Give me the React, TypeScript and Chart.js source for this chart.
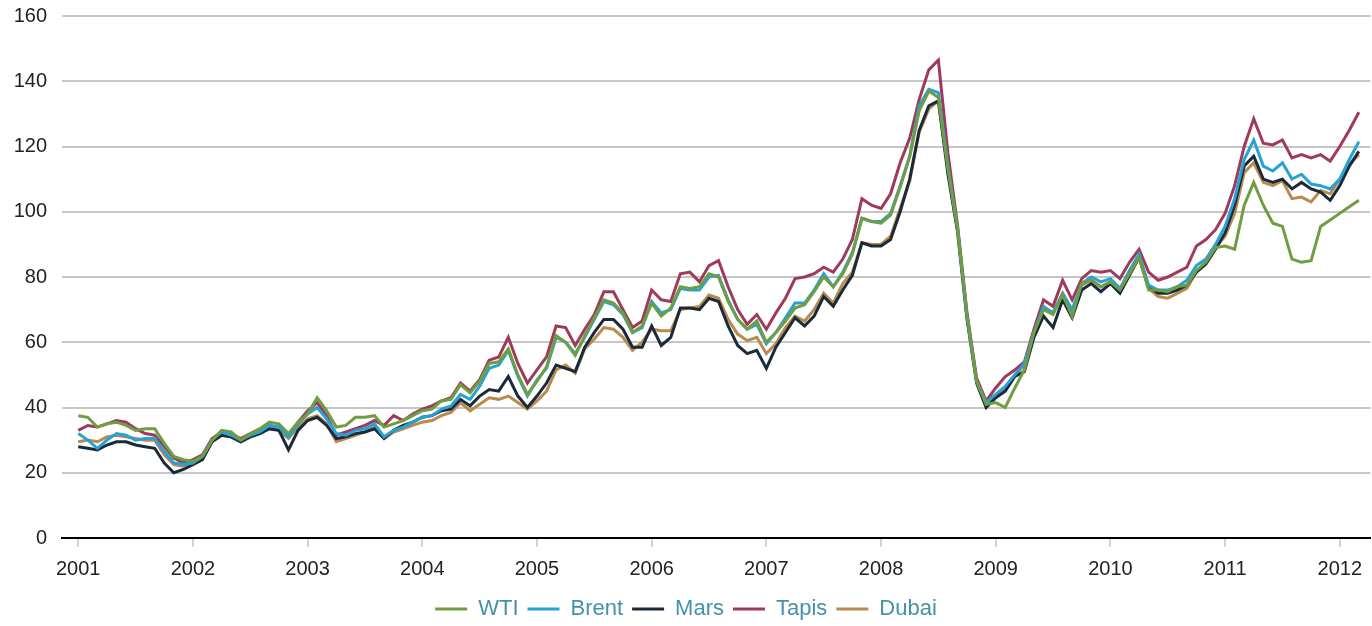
import React, { useEffect, useRef } from "react";
import { Chart, registerables } from "chart.js";

Chart.register(...registerables);

// Monthly data, Jan 2001 .. Mar 2012 (index 0 = Jan 2001)
const yearLabels = ["2001", "2002", "2003", "2004", "2005", "2006", "2007", "2008", "2009", "2010", "2011", "2012"];
const seriesNames = ["WTI", "Brent", "Mars", "Tapis", "Dubai"];
const seriesColors = ["#6f9d42", "#27a2d6", "#1b2a3b", "#9e3a5a", "#b88a4e"];

const wti = [
  37.5, 37, 34, 35, 35.5, 34.5, 33, 33.5, 33.5, 29, 25, 24,
  23.5, 25, 30, 33, 32.5, 30, 32, 33.5, 35.5, 35, 32, 35.5,
  38, 43, 39, 34, 34.5, 37, 37, 37.5, 34, 35, 36, 37.5,
  39, 39.5, 42, 42.5, 47, 44.5, 48, 53.5, 54, 58, 50, 44,
  48, 52.5, 62, 60, 56, 62, 67.5, 73, 72, 69, 63, 65,
  72, 68, 70.5, 77, 76.5, 77, 81, 80, 72.5, 67, 64, 66.5,
  60, 63, 66.5, 70.5, 71.5, 75.5, 80, 77, 81, 87, 98, 97,
  96.5, 99, 107.5, 117, 131, 137, 135, 113, 95, 68, 48, 41,
  41.5, 40, 46, 51.5, 63, 70, 68.5, 74.5, 68, 78, 79, 77,
  78.5, 76, 81, 86, 76, 76, 75.5, 77, 77.5, 82, 84.5, 89,
  89.5, 88.5, 102, 109, 102, 96.5, 95.5, 85.5, 84.5, 85, 95.5, 97.5,
  99.5, 101.5, 103.5,
];
const brent = [
  32, 30, 27.5, 30, 32, 31.5, 30, 30.5, 30.5, 26.5, 23, 22.5,
  23, 25, 30, 32.5, 31.5, 30, 31.5, 32.5, 34.5, 34, 31, 35,
  38, 40, 36.5, 32, 31.5, 33, 33.5, 35, 31, 33, 34, 35.5,
  37, 37.5, 39.5, 40.5, 44, 42.5, 46.5, 52, 53, 57.5, 49.5, 43.5,
  48.5, 52, 61.5, 60, 56.5, 61.5, 67, 72.5, 71.5, 68.5, 63, 64.5,
  72.5, 69, 70, 76.5, 76, 76, 80, 80.5, 73, 67, 64, 65.5,
  59.5, 63, 67.5, 72, 72, 76, 81, 77, 81.5, 87.5, 98, 97,
  97, 99.5, 108, 117, 132.5, 137.5, 136.5, 114, 95, 68, 48, 41.5,
  44, 46.5, 50, 53.5, 63, 71, 69, 75, 70, 78, 80, 78.5,
  79.5, 76.5, 82, 87, 77.5, 76, 76, 77, 79, 83.5, 85.5, 90,
  95.5, 104, 116, 122, 114, 112.5, 115, 110, 111.5, 108.5, 108, 107,
  110, 116, 121.5,
];
const mars = [
  28, 27.5, 27, 28.5, 29.5, 29.5, 28.5, 28, 27.5, 23, 20, 21,
  22.5, 24, 29.5, 31.5, 31, 29.5, 31, 32, 33.5, 33, 27, 33,
  36, 37, 34.5, 30.5, 31, 32, 32.5, 33.5, 30.5, 33, 34.5, 35.5,
  37, 37.5, 39, 39.5, 42.5, 40.5, 43.5, 45.5, 45, 49.5, 43.5, 40,
  43.5, 47.5, 53, 52, 51, 58.5, 63, 67, 67, 64, 58.5, 58.5,
  65, 59, 61.5, 70.5, 70.5, 70, 73.5, 72.5, 65, 59, 56.5, 57.5,
  52, 58.5, 63, 67.5, 65, 68, 74, 71, 76, 80.5, 90.5, 89.5,
  89.5, 91.5, 100, 110, 125, 132.5, 134, 111.5, 94, 67, 47.5, 40,
  43, 45, 49.5, 51, 61.5, 68, 64.5, 73, 67.5, 76, 78, 75.5,
  78, 75, 80.5, 86, 77, 75, 75, 76, 77.5, 81.5, 84, 88.5,
  93.5, 102, 114, 117, 110, 109, 110, 107, 109, 107, 106, 103.5,
  108, 114, 118.5,
];
const tapis = [
  33, 34.5, 34, 35, 36, 35.5, 33.5, 32, 31.5, 28, 24.5, 23,
  24, 25.5, 30.5, 32.5, 32, 30.5, 32, 33, 34.5, 34, 31.5, 35.5,
  39, 41.5, 37.5, 31.5, 32.5, 33.5, 34.5, 36, 34.5, 37.5, 36, 38,
  39.5, 40.5, 42, 43, 47.5, 45, 48.5, 54.5, 55.5, 61.5, 53.5, 47.5,
  51.5, 55.5, 65, 64.5, 59, 64, 68.5, 75.5, 75.5, 70, 64.5, 66.5,
  76, 73, 72.5, 81, 81.5, 78.5, 83.5, 85, 77, 70, 65.5, 68.5,
  64, 69, 73.5, 79.5, 80, 81, 83, 81.5, 85.5, 91.5, 104, 102,
  101, 105.5, 115, 122.5, 134.5, 143.5, 146.5, 118, 96, 69, 49, 42,
  46, 49.5, 51.5, 54, 64, 73, 71, 79, 73, 79.5, 82, 81.5,
  82, 79.5, 84.5, 88.5, 81.5, 79, 80, 81.5, 83, 89.5, 91.5, 94.5,
  99.5, 108, 120, 128.5, 121, 120.5, 122, 116.5, 117.5, 116.5, 117.5, 115.5,
  120, 125, 130.5,
];
const dubai = [
  29.5, 30, 29.5, 31, 31.5, 31, 30.5, 30, 30, 25.5, 22.5, 22,
  23, 24.5, 29.5, 31.5, 31, 29.5, 31, 32, 33.5, 33, 30.5, 34,
  36.5, 37.5, 35, 29.5, 30.5, 31.5, 32.5, 34, 30.5, 32.5, 33.5, 34.5,
  35.5, 36, 37.5, 38.5, 41.5, 39, 41, 43, 42.5, 43.5, 41.5, 39.5,
  42, 45, 51.5, 53, 50.5, 58, 61, 64.5, 64, 61.5, 57.5, 60,
  64, 63.5, 63.5, 70, 70.5, 71, 74.5, 73.5, 67, 62.5, 60.5, 61.5,
  56.5, 59.5, 64.5, 68, 66.5, 70, 75, 72, 78, 81.5, 90.5, 90,
  90, 92.5, 101, 109.5, 124.5, 131.5, 134, 113, 95, 68, 48.5, 41.5,
  43.5, 45.5, 50, 53, 62.5, 70.5, 69, 75, 69.5, 77.5, 79, 77,
  78.5, 75.5, 81.5, 86, 76.5, 74, 73.5, 75, 76.5, 81.5, 84.5, 89,
  92.5, 99.5, 112, 115, 109, 108, 109.5, 104, 104.5, 103, 106.5, 105.5,
  110, 114.5, 117.5,
];

const seriesValues = [wti, brent, mars, tapis, dubai];

export default function App() {
  const canvasRef = useRef<HTMLCanvasElement | null>(null);

  useEffect(() => {
    const canvas = canvasRef.current;
    if (!canvas) return;
    const datasets = seriesNames.map((name, si) => ({
      label: name,
      data: seriesValues[si].map((v, i) => ({ x: i, y: v })),
      borderColor: seriesColors[si],
      backgroundColor: seriesColors[si],
      borderWidth: 3,
      pointRadius: 0,
      tension: 0,
      fill: false,
    }));

    const chart = new Chart(canvas, {
      type: "line",
      data: { datasets },
      options: {
        animation: false,
        responsive: true,
        maintainAspectRatio: false,
        layout: { padding: { top: 16, right: 0, bottom: -4, left: 0 } },
        plugins: {
          tooltip: { enabled: false },
          legend: {
            position: "bottom",
            labels: {
              color: "#4592a6",
              font: { family: "'Liberation Sans', Arial, sans-serif", size: 22 },
              boxWidth: 32,
              boxHeight: 3,
              padding: 9,
              generateLabels: (ch: any) =>
                ch.data.datasets.map((ds: any, i: number) => ({
                  text: ds.label,
                  fillStyle: ds.borderColor,
                  strokeStyle: ds.borderColor,
                  lineWidth: 0,
                  hidden: false,
                  datasetIndex: i,
                  fontColor: "#4592a6",
                })),
            },
          },
        },
        scales: {
          x: {
            type: "linear",
            min: -1.7,
            max: 135.2,
            afterBuildTicks: (scale: any) => {
              scale.ticks = yearLabels.map((_, k) => ({ value: k * 12 }));
            },
            afterFit: (scale: any) => {
              scale.height = 51;
            },
            ticks: {
              autoSkip: false,
              maxRotation: 0,
              padding: 10,
              color: "#222",
              font: { family: "'Liberation Sans', Arial, sans-serif", size: 20 },
              callback: (v: any) => yearLabels[Math.round(Number(v) / 12)] ?? "",
            },
            grid: {
              drawOnChartArea: false,
              drawTicks: true,
              tickLength: 9,
              color: "#d4d4d4",
              lineWidth: 2,
            },
            border: { display: true, color: "#000", width: 2 },
          },
          y: {
            min: 0,
            max: 160,
            afterBuildTicks: (scale: any) => {
              const t = [];
              for (let v = 0; v <= 160; v += 20) t.push({ value: v });
              scale.ticks = t;
            },
            afterFit: (scale: any) => {
              scale.width = 62;
              scale.paddingTop = 0;
              scale.paddingBottom = 0;
            },
            ticks: {
              padding: 15,
              color: "#222",
              font: { family: "'Liberation Sans', Arial, sans-serif", size: 20 },
            },
            grid: {
              drawTicks: false,
              color: (ctx: any) => (ctx.tick && ctx.tick.value === 0 ? "rgba(0,0,0,0)" : "#c6c6c6"),
              lineWidth: 2,
            },
            border: { display: false },
          },
        },
      },
    });
    return () => chart.destroy();
  }, []);

  return (
    <div style={{ position: "absolute", left: 0, top: 0, width: 1372, height: 626, background: "#fff" }}>
      <canvas ref={canvasRef} />
    </div>
  );
}
